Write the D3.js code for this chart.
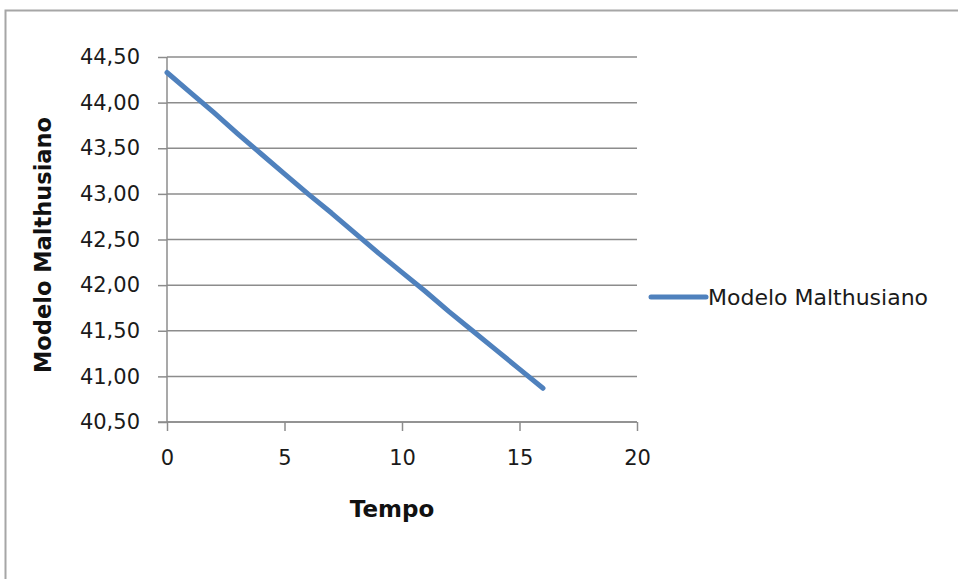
<!DOCTYPE html>
<html>
<head>
<meta charset="utf-8">
<script src="https://cdn.jsdelivr.net/npm/d3@7"></script>
<style>
  html, body { margin: 0; padding: 0; background: #fff; }
  svg { display: block; }
</style>
</head>
<body>
<svg id="chart" width="958" height="579"></svg>
<script>
// Malthusian model: population over time
const tempo = [0, 1, 2, 3, 4, 5, 6, 7, 8, 9, 10, 11, 12, 13, 14, 15, 16];
const modeloMalthusiano = [44.33, 44.11, 43.89, 43.66, 43.44, 43.22, 43.00, 42.79, 42.57, 42.35, 42.14, 41.93, 41.71, 41.50, 41.29, 41.08, 40.87];
const yTicks = [40.5, 41.0, 41.5, 42.0, 42.5, 43.0, 43.5, 44.0, 44.5];
const xTicks = [0, 5, 10, 15, 20];
const seriesName = "Modelo Malthusiano";
const xTitle = "Tempo";
const yTitle = "Modelo Malthusiano";

const svg = d3.select("#chart");
const font = "'DejaVu Sans', Verdana, sans-serif";
const gridColor = "#8c8c8c";
const lineColor = "#4f81bd";

// chart frame
svg.append("rect")
  .attr("x", 5.5).attr("y", 10.5)
  .attr("width", 980).attr("height", 600)
  .attr("fill", "#fff")
  .attr("stroke", "#a6a6a6").attr("stroke-width", 2);

const plot = { left: 167, right: 637, top: 57, bottom: 422 };

const x = d3.scaleLinear().domain([0, 20]).range([plot.left, plot.right]);
const y = d3.scaleLinear().domain([40.5, 44.5]).range([plot.bottom, plot.top]);

const fmt = v => d3.format(".2f")(v).replace(".", ",");

// horizontal gridlines
svg.append("g")
  .selectAll("line")
  .data(yTicks)
  .join("line")
  .attr("x1", plot.left).attr("x2", plot.right)
  .attr("y1", d => y(d)).attr("y2", d => y(d))
  .attr("stroke", gridColor).attr("stroke-width", 1.5);

// y axis
const yAxis = svg.append("g")
  .attr("transform", `translate(${plot.left},0)`)
  .call(d3.axisLeft(y).tickValues(yTicks).tickFormat(fmt).tickSize(9).tickPadding(18));
yAxis.select(".domain").attr("stroke", gridColor).attr("stroke-width", 1.5)
  .attr("d", `M0,${plot.top}V${plot.bottom}`);
yAxis.selectAll(".tick line").attr("stroke", gridColor).attr("stroke-width", 1.5);
yAxis.selectAll(".tick text")
  .attr("font-family", font).attr("font-size", 21).attr("fill", "#1a1a1a");

// x axis
const xAxis = svg.append("g")
  .attr("transform", `translate(0,${plot.bottom})`)
  .call(d3.axisBottom(x).tickValues(xTicks).tickFormat(d3.format("d")).tickSize(9).tickPadding(19));
xAxis.select(".domain").attr("stroke", gridColor).attr("stroke-width", 1.5)
  .attr("d", `M${plot.left - 9},0H${plot.right}`);
xAxis.selectAll(".tick line").attr("stroke", gridColor).attr("stroke-width", 1.5);
xAxis.selectAll(".tick text")
  .attr("font-family", font).attr("font-size", 21).attr("fill", "#1a1a1a");

// series line
const line = d3.line()
  .x((d, i) => x(tempo[i]))
  .y(d => y(d));

svg.append("path")
  .datum(modeloMalthusiano)
  .attr("d", line)
  .attr("fill", "none")
  .attr("stroke", lineColor)
  .attr("stroke-width", 5)
  .attr("stroke-linecap", "round")
  .attr("stroke-linejoin", "round");

// axis titles
svg.append("text")
  .attr("x", 392).attr("y", 517)
  .attr("text-anchor", "middle")
  .attr("font-family", font).attr("font-size", 23).attr("font-weight", "bold")
  .attr("fill", "#111")
  .text(xTitle);

svg.append("text")
  .attr("transform", `translate(51,245) rotate(-90)`)
  .attr("text-anchor", "middle")
  .attr("font-family", font).attr("font-size", 22.5).attr("font-weight", "bold")
  .attr("fill", "#111")
  .text(yTitle);

// legend
const legend = svg.append("g").attr("transform", "translate(651,297)");
legend.append("line")
  .attr("x1", 0).attr("x2", 55).attr("y1", 0).attr("y2", 0)
  .attr("stroke", lineColor).attr("stroke-width", 5).attr("stroke-linecap", "round");
legend.append("text")
  .attr("x", 57).attr("y", 8)
  .attr("font-family", font).attr("font-size", 22).attr("fill", "#1a1a1a")
  .text(seriesName);
</script>
</body>
</html>
